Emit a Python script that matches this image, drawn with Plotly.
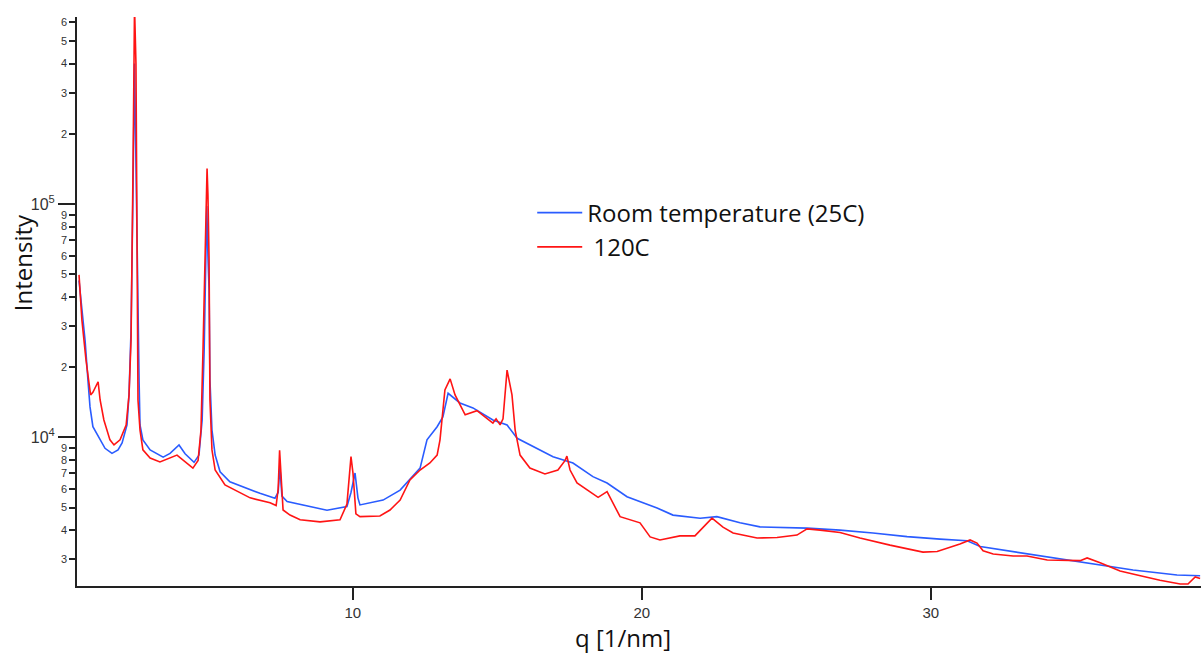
import plotly.graph_objects as go

# ---- data ----
q_rt = [0.53, 0.74, 0.84, 0.91, 1.01, 1.26, 1.43, 1.67, 1.88, 2.02, 2.19, 2.26, 2.33, 2.40, 2.45,
        2.50, 2.55, 2.61, 2.64, 2.74, 2.99, 3.44, 3.68, 3.99, 4.20, 4.51, 4.68, 4.79, 4.86, 4.91,
        4.95, 4.99, 5.03, 5.06, 5.13, 5.24, 5.41, 5.75, 6.79, 7.31, 7.42, 7.48, 7.55, 7.73, 8.52,
        9.11, 9.80, 9.94, 10.08, 10.18, 10.25, 11.05, 11.64, 12.33, 12.57, 12.92, 13.12, 13.30,
        13.71, 14.16, 14.85, 15.34, 15.69, 16.24, 16.93, 17.62, 18.31, 18.80, 19.49, 20.53, 21.08,
        22.02, 22.60, 23.40, 24.09, 25.72, 26.86, 28.00, 29.18, 30.32, 31.26, 31.71, 32.85, 34.03,
        35.17, 35.86, 37.00, 38.52, 39.32]
i_rt = [47000, 26000, 17500, 13500, 11100, 9750, 8970, 8530, 8830, 9450, 11300, 15200, 28900,
        120000, 400000, 150000, 45000, 17000, 11300, 9750, 8830, 8220, 8530, 9270, 8500, 7810,
        8390, 11860, 23700, 60000, 98000, 60000, 42800, 17600, 10740, 8390, 7110, 6450, 5750,
        5480, 5800, 7480, 5600, 5300, 5050, 4870, 5050, 5800, 7030, 5500, 5130, 5380, 5940,
        7380, 9750, 11100, 12220, 15440, 14030, 13360, 11860, 11290, 9900, 9120, 8260, 7760,
        6780, 6370, 5560, 4980, 4640, 4500, 4570, 4300, 4130, 4080, 4000, 3890, 3750, 3660,
        3600, 3400, 3240, 3080, 2930, 2840, 2700, 2570, 2550]

q_120 = [0.53, 0.63, 0.77, 0.93, 1.01, 1.19, 1.26, 1.39, 1.60, 1.74, 1.95, 2.16, 2.26, 2.33, 2.40,
         2.45, 2.50, 2.54, 2.57, 2.64, 2.74, 2.99, 3.33, 3.92, 4.47, 4.65, 4.75, 4.82, 4.91, 4.96,
         4.99, 5.03, 5.06, 5.13, 5.24, 5.58, 6.45, 7.14, 7.35, 7.42, 7.47, 7.52, 7.59, 7.83, 8.18,
         8.87, 9.56, 9.80, 9.94, 10.01, 10.11, 10.25, 10.94, 11.29, 11.64, 11.98, 12.33, 12.67,
         12.92, 13.02, 13.19, 13.37, 13.54, 13.89, 14.30, 14.85, 14.96, 15.10, 15.20, 15.34,
         15.51, 15.62, 15.79, 16.13, 16.65, 17.10, 17.35, 17.41, 17.52, 17.76, 18.49, 18.80,
         19.25, 19.94, 20.29, 20.63, 21.32, 21.84, 22.12, 22.43, 22.81, 23.16, 23.99, 24.68,
         25.37, 25.72, 26.17, 26.86, 27.55, 28.59, 29.73, 30.22, 31.01, 31.36, 31.60, 31.81,
         32.16, 32.85, 33.33, 34.03, 35.17, 35.41, 35.86, 36.55, 37.14, 37.93, 38.63, 38.90,
         39.15, 39.32]
i_120 = [49700, 31800, 21500, 15200, 15600, 17300, 14450, 11860, 9750, 9270, 9750, 11290, 15200,
         26100, 150000, 700000, 400000, 38800, 14450, 10740, 8830, 8150, 7840, 8390, 7380, 7960,
         10740, 23700, 80000, 142000, 110000, 57700, 14450, 8830, 7240, 6250, 5500, 5240, 5100,
         6000, 8800, 7000, 4880, 4640, 4430, 4340, 4430, 5170, 8260, 7000, 4700, 4570, 4600,
         4880, 5380, 6560, 7240, 7760, 8390, 9750, 15960, 17800, 15200, 12480, 13000, 11510,
         12000, 11300, 12000, 19410, 15200, 10740, 8390, 7380, 6960, 7240, 7960, 8300, 7240,
         6370, 5530, 5850, 4570, 4300, 3740, 3630, 3780, 3780, 4120, 4500, 4120, 3890, 3700,
         3720, 3810, 4050, 4000, 3910, 3700, 3450, 3220, 3240, 3490, 3630, 3520, 3260, 3160,
         3100, 3100, 2980, 2960, 3040, 2900, 2670, 2570, 2440, 2350, 2350, 2520, 2480]

series_names = ["Room temperature (25C)", " 120C"]
x_title = "q [1/nm]"
y_title = "Intensity"
x_ticks = [10, 20, 30]
y_minor_vals = [3000, 4000, 5000, 6000, 7000, 8000, 9000,
                20000, 30000, 40000, 50000, 60000, 70000, 80000, 90000,
                200000, 300000, 400000, 500000, 600000]
y_minor_text = ["3", "4", "5", "6", "7", "8", "9",
                "2", "3", "4", "5", "6", "7", "8", "9",
                "2", "3", "4", "5", "6"]
y_major_vals = [10000, 100000]
y_major_text = ["10<sup>4</sup>", "10<sup>5</sup>"]

x_range = [0.46, 39.35]
y_range = [3.3626, 5.8015]

fig = go.Figure()
fig.add_trace(go.Scatter(x=q_rt, y=i_rt, mode="lines", name=series_names[0],
                         line=dict(color="#2a5cff", width=1.6)))
fig.add_trace(go.Scatter(x=q_120, y=i_120, mode="lines", name=series_names[1], yaxis="y2",
                         line=dict(color="#ff1414", width=1.6)))

tick_font = dict(family="Liberation Sans, Arial, sans-serif", color="#333333")
title_font = dict(family="Open Sans, sans-serif", size=24, color="#111111")

fig.update_layout(
    width=1201, height=656,
    margin=dict(l=77, r=0, t=17, b=70),
    paper_bgcolor="white", plot_bgcolor="white",
    showlegend=True,
    legend=dict(x=0.405, y=0.695, xanchor="left", yanchor="top",
                bgcolor="rgba(0,0,0,0)", borderwidth=0,
                font=dict(family="Open Sans, sans-serif", size=24, color="#111111"),
                tracegroupgap=0, itemwidth=45),
    xaxis=dict(range=x_range, tickvals=x_ticks, ticks="outside", ticklen=12, tickwidth=1.5,
               tickcolor="#222222", showline=True, linecolor="#222222", linewidth=1.5,
               showgrid=False, zeroline=False, tickfont=dict(size=15, **tick_font)),
    yaxis=dict(type="log", range=y_range, tickmode="array", tickvals=y_minor_vals,
               ticktext=y_minor_text, ticks="outside", ticklen=6, tickwidth=1.5,
               tickcolor="#222222", showline=True, linecolor="#222222", linewidth=1.5,
               showgrid=False, zeroline=False, tickfont=dict(size=11, **tick_font)),
    yaxis2=dict(type="log", range=y_range, overlaying="y", side="left", anchor="x",
                tickmode="array", tickvals=y_major_vals, ticktext=y_major_text,
                ticks="outside", ticklen=18, tickwidth=1.5, tickcolor="#222222",
                showline=False, showgrid=False, zeroline=False,
                tickfont=dict(size=16, **tick_font)),
    annotations=[
        dict(text=x_title, xref="paper", yref="paper", x=0.486, y=-0.090,
             xanchor="center", yanchor="middle", showarrow=False, font=title_font),
        dict(text=y_title, xref="paper", yref="paper", x=-0.049, y=0.569, textangle=-90,
             xanchor="center", yanchor="middle", showarrow=False, font=title_font),
    ],
)

fig.write_html("out.html")
